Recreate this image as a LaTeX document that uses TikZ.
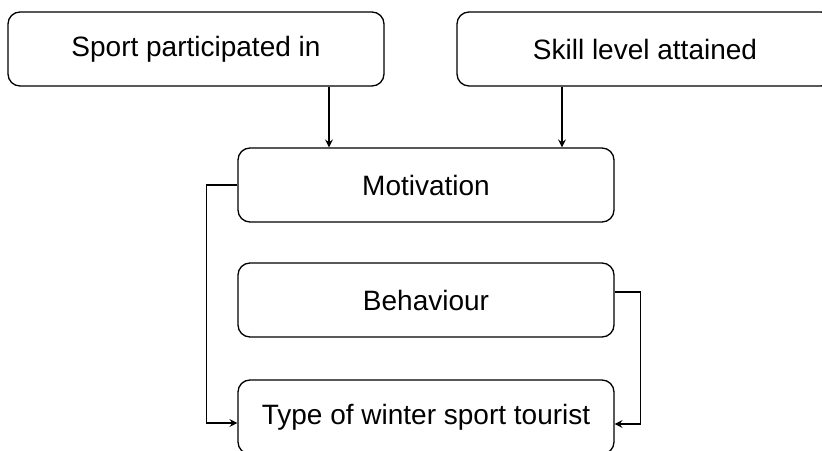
\documentclass[tikz,border=0pt]{standalone}
\usepackage{fontspec}
\setmainfont{Liberation Sans}
\usepackage{tikz}
\usetikzlibrary{arrows.meta}

\tikzset{
	factorbox/.style={draw, line width=1.3pt, rounded corners=12pt, fill=white,
		minimum width=376pt, minimum height=74pt, inner sep=0pt,
		font=\fontsize{28}{34}\selectfont},
	link/.style={line width=1.1pt, -{Stealth[length=8pt, width=8pt, inset=3pt]}}
}

\begin{document}
\begin{tikzpicture}[x=1pt, y=1pt]
			\useasboundingbox (0, 0) rectangle (822, 450);
			\clip (0, 0) rectangle (822, 450);

			\node[factorbox] (sport) at (196, 401) {Sport participated in};
			\node[factorbox] (skill) at (645, 401) {Skill level attained};
			\node[factorbox] (motiv) at (426, 265) {Motivation};
			\node[factorbox] (behav) at (426, 150) {Behaviour};
			\node[factorbox] (type) at (426, 33) {Type of winter sport tourist};

			\draw[link] ([xshift=133pt]sport.south) -- ([xshift=133pt]sport.south |- motiv.north);
			\draw[link] ([xshift=-83pt]skill.south) -- ([xshift=-83pt]skill.south |- motiv.north);

			\draw[link] (motiv.west) -- ++(-31, 0) |- ([yshift=-6pt]type.west);
			\draw[link] ([yshift=8pt]behav.east) -- ++(26, 0) |- ([yshift=-7pt]type.east);

		\end{tikzpicture}
\end{document}
